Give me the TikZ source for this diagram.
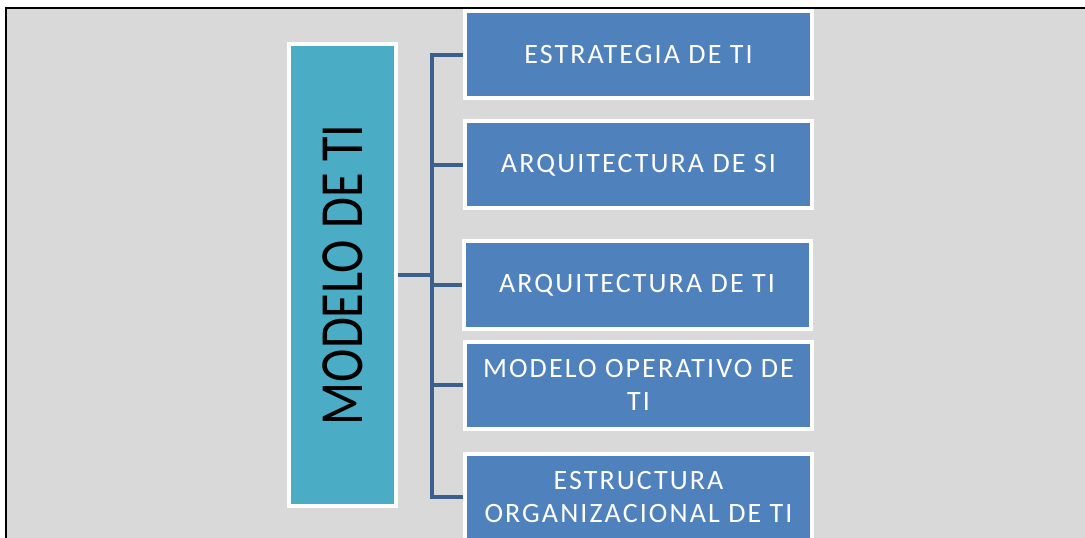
\documentclass[tikz,border=0pt]{standalone}
\usepackage{fontspec}
\setmainfont{Carlito}
\newfontfamily\boxfont[LetterSpace=7.5]{Carlito}
\usetikzlibrary{positioning}

\definecolor{bggray}{RGB}{217,217,217}
\definecolor{titlecyan}{RGB}{75,172,198}
\definecolor{itemblue}{RGB}{79,129,189}
\definecolor{linkblue}{RGB}{60,96,142}

\begin{document}
\begin{tikzpicture}[x=0.75pt, y=-0.75pt,
  mainbox/.style={rectangle, draw=white, fill=titlecyan, line width=3pt, minimum width=80.25pt, minimum height=346.5pt, inner sep=0pt},
  itembox/.style={rectangle, draw=white, fill=itemblue, line width=3pt, minimum width=260.25pt, minimum height=65.25pt, inner sep=0pt, text=white, align=center, font=\boxfont\fontsize{21}{24.5}\selectfont},
  link/.style={draw=linkblue, line width=3.5pt}]

\useasboundingbox (0, 0) rectangle (1085, 538);
\fill[white] (0, 0) rectangle (1085, 538);
\fill[bggray] (6, 8) rectangle (1085, 538);
\draw[black, line width=1.5pt] (6, 538) -- (6, 8) -- (1085, 8);

\node (modelo)[mainbox, font=\fontsize{46}{50}\selectfont] at (342.5, 275) {\rotatebox{90}{\scalebox{0.82}[1]{MODELO DE TI}}};

\node (estrategia)[itembox] at (638.5, 55) {ESTRATEGIA DE TI};
\node (arqsi)[itembox] at (638.5, 165) {ARQUITECTURA DE SI};
\node (arqti)[itembox] at (637, 285) {ARQUITECTURA DE TI};
\node (operativo)[itembox] at (638.5, 385) {MODELO OPERATIVO DE\\TI};
\node (estructura)[itembox] at (638.5, 497) {ESTRUCTURA\\ORGANIZACIONAL DE TI};

\coordinate (spine) at (432, 275);

\draw[link] (modelo.east) -- (spine);
\draw[link] (estrategia.west) -| (spine |- estructura.west) -- (estructura.west);
\draw[link] (spine |- arqsi.west) -- (arqsi.west);
\draw[link] (spine |- arqti.west) -- (arqti.west);
\draw[link] (spine |- operativo.west) -- (operativo.west);

\end{tikzpicture}
\end{document}
